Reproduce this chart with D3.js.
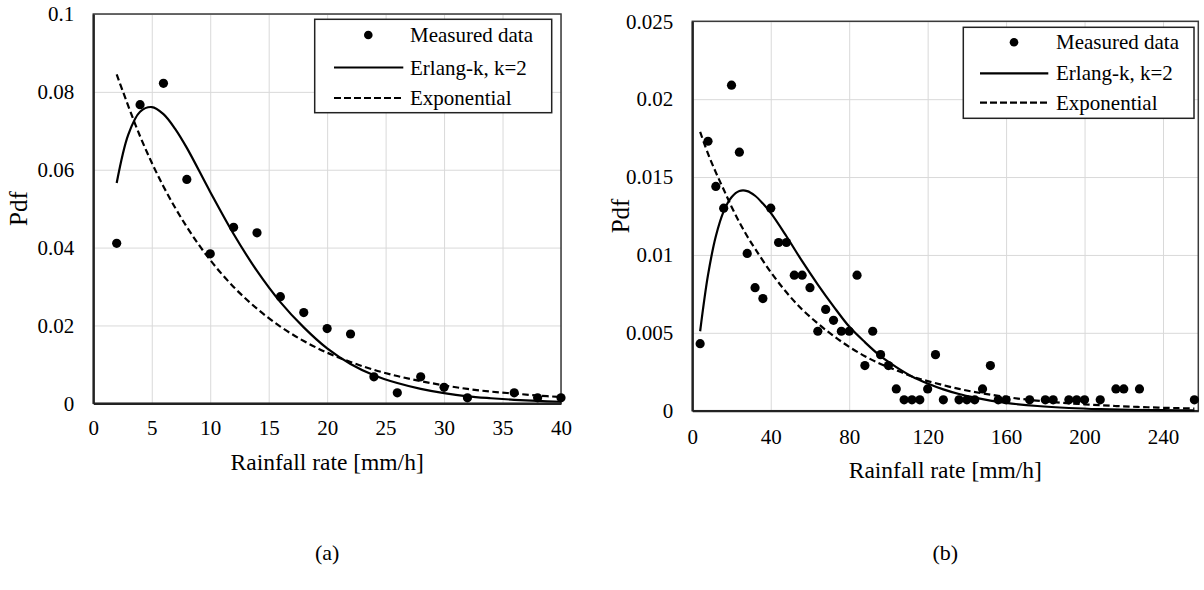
<!DOCTYPE html>
<html>
<head>
<meta charset="utf-8">
<script src="https://cdn.jsdelivr.net/npm/d3@7"></script>
<style>
  body { margin: 0; background: #fff; }
  text { font-family: "Liberation Serif", "Times New Roman", serif; fill: #000; }
</style>
</head>
<body>
<svg id="chart" width="1204" height="590"></svg>
<script>
// ---- Panel (a): rainfall rate up to 40 mm/h ----
const rateA = [2, 4, 6, 8, 10, 12, 14, 16, 18, 20, 22, 24, 26, 28, 30, 32, 36, 38, 40];
const measuredA = [0.0411, 0.0767, 0.0822, 0.0575, 0.0384, 0.0452, 0.0438, 0.0274, 0.0233, 0.0192,
                   0.0178, 0.0068, 0.0027, 0.0068, 0.0041, 0.0014, 0.0027, 0.0014, 0.0014];
const erlangXA = [2, 3, 4, 5, 6, 7, 8, 10, 12, 14, 16, 18, 20, 22, 24, 26, 28, 30, 32, 34, 36, 38, 40];
const erlangA = [0.0566, 0.0691, 0.0749, 0.0761, 0.0743, 0.0705, 0.0656, 0.0543, 0.0435, 0.0340, 0.0260,
                 0.0195, 0.0141, 0.0101, 0.0072, 0.0052, 0.0037, 0.0026, 0.0018, 0.0013, 0.0009, 0.0006, 0.0004];
const expXA = [2, 4, 6, 8, 10, 12, 14, 16, 18, 20, 22, 24, 26, 28, 30, 32, 34, 36, 38, 40];
const exponentialA = [0.0845, 0.0686, 0.0557, 0.0453, 0.0368, 0.0299, 0.0243, 0.0197, 0.0160, 0.0130,
                      0.0106, 0.0086, 0.0070, 0.0057, 0.0046, 0.0037, 0.0030, 0.0025, 0.0020, 0.0016];
const xTicksA = [0, 5, 10, 15, 20, 25, 30, 35, 40];
const yTicksA = [0, 0.02, 0.04, 0.06, 0.08, 0.1];

// ---- Panel (b): rainfall rate up to ~260 mm/h ----
const rateB = [4, 8, 12, 16, 20, 24, 28, 32, 36, 40, 44, 48, 52, 56, 60, 64, 68, 72, 76, 80, 84, 88, 92, 96,
               100, 104, 108, 112, 116, 120, 124, 128, 136, 140, 144, 148, 152, 156, 160, 172, 180, 184,
               192, 196, 200, 208, 216, 220, 228, 256];
const measuredB = [0.0043, 0.0173, 0.0144, 0.0130, 0.0209, 0.0166, 0.0101, 0.0079, 0.0072, 0.0130, 0.0108,
                   0.0108, 0.0087, 0.0087, 0.0079, 0.0051, 0.0065, 0.0058, 0.0051, 0.0051, 0.0087, 0.0029,
                   0.0051, 0.0036, 0.0029, 0.0014, 0.0007, 0.0007, 0.0007, 0.0014, 0.0036, 0.0007, 0.0007,
                   0.0007, 0.0007, 0.0014, 0.0029, 0.0007, 0.0007, 0.0007, 0.0007, 0.0007, 0.0007, 0.0007,
                   0.0007, 0.0007, 0.0014, 0.0014, 0.0014, 0.0007];
const erlangXB = [4, 8, 12, 16, 20, 24, 28, 32, 36, 40, 48, 56, 64, 72, 80, 88, 96, 104, 112, 120, 128, 136,
                  144, 152, 160, 176, 192, 208, 224, 240, 256];
const erlangB = [0.0051, 0.0087, 0.0112, 0.0128, 0.0137, 0.0141, 0.0141, 0.0138, 0.0133, 0.0127, 0.0112,
                 0.0096, 0.0081, 0.0067, 0.0054, 0.0044, 0.0035, 0.0028, 0.0022, 0.00175, 0.00137, 0.00107,
                 0.00084, 0.00065, 0.0005, 0.0003, 0.000175, 0.0001, 0.00006, 0.000035, 0.00002];
const expXB = [4, 8, 12, 16, 20, 24, 28, 32, 40, 48, 56, 64, 72, 80, 88, 96, 104, 112, 120, 136, 152, 168,
               184, 200, 216, 232, 248, 256];
const exponentialB = [0.0179, 0.0165, 0.0153, 0.0142, 0.0131, 0.0121, 0.0112, 0.0104, 0.0089, 0.0076, 0.0065,
                      0.0056, 0.0048, 0.0041, 0.0035, 0.0030, 0.0026, 0.0022, 0.0019, 0.0014, 0.00103,
                      0.00075, 0.00055, 0.00041, 0.0003, 0.00022, 0.00016, 0.00014];
const xTicksB = [0, 40, 80, 120, 160, 200, 240];
const yTicksB = [0, 0.005, 0.01, 0.015, 0.02, 0.025];

// ---- Shared text ----
const legendLabels = ["Measured data", "Erlang-k, k=2", "Exponential"];
const xTitle = "Rainfall rate [mm/h]";
const yTitle = "Pdf";
const panelLabels = ["(a)", "(b)"];

const svg = d3.select("#chart");

function drawPanel(p) {
  const x = d3.scaleLinear().domain(p.xDomain).range([p.left, p.right]);
  const y = d3.scaleLinear().domain(p.yDomain).range([p.bottom, p.top]);
  const g = svg.append("g");

  // gridlines
  g.append("g")
    .attr("transform", `translate(0,${p.bottom})`)
    .call(d3.axisBottom(x).tickValues(p.xTicks).tickSize(-(p.bottom - p.top)).tickFormat(""))
    .call(s => s.select(".domain").remove())
    .selectAll("line").attr("stroke", "#d9d9d9").attr("stroke-width", 1);
  g.append("g")
    .attr("transform", `translate(${p.left},0)`)
    .call(d3.axisLeft(y).tickValues(p.yTicks).tickSize(-(p.right - p.left)).tickFormat(""))
    .call(s => s.select(".domain").remove())
    .selectAll("line").attr("stroke", "#d9d9d9").attr("stroke-width", 1);

  // frame
  g.append("rect")
    .attr("x", p.left).attr("y", p.top)
    .attr("width", p.right - p.left).attr("height", p.bottom - p.top)
    .attr("fill", "none").attr("stroke", "#3a3a3a").attr("stroke-width", 1.5);

  // tick labels
  const xa = g.append("g")
    .attr("transform", `translate(0,${p.bottom})`)
    .call(d3.axisBottom(x).tickValues(p.xTicks).tickSize(0).tickPadding(p.xPad).tickFormat(d => String(d)));
  xa.select(".domain").attr("stroke", "#222").attr("stroke-width", 2.2);
  xa.selectAll("text").attr("font-size", 21).attr("font-family", "Liberation Serif").attr("fill", "#000");

  const ya = g.append("g")
    .attr("transform", `translate(${p.left},0)`)
    .call(d3.axisLeft(y).tickValues(p.yTicks).tickSize(0).tickPadding(19).tickFormat(d => String(d)));
  ya.select(".domain").attr("stroke", "#222").attr("stroke-width", 2.2);
  ya.selectAll("text").attr("font-size", 21).attr("font-family", "Liberation Serif").attr("fill", "#000");

  // fitted curves
  const line = d3.line().x(d => x(d[0])).y(d => y(d[1])).curve(d3.curveCatmullRom.alpha(0.5));
  g.append("path")
    .datum(p.expX.map((v, i) => [v, p.exp[i]]))
    .attr("d", line).attr("fill", "none")
    .attr("stroke", "#000").attr("stroke-width", 2.2).attr("stroke-dasharray", "6.5,3.5");
  g.append("path")
    .datum(p.erlX.map((v, i) => [v, p.erl[i]]))
    .attr("d", line).attr("fill", "none")
    .attr("stroke", "#000").attr("stroke-width", 2.2);

  // measured points
  g.append("g").selectAll("circle")
    .data(p.rate.map((v, i) => [v, p.meas[i]]))
    .join("circle")
    .attr("cx", d => x(d[0])).attr("cy", d => y(d[1]))
    .attr("r", 4.6).attr("fill", "#000");

  // legend
  const L = p.legend;
  const lg = g.append("g");
  lg.append("rect")
    .attr("x", L.x0).attr("y", L.y0).attr("width", L.x1 - L.x0).attr("height", L.y1 - L.y0)
    .attr("fill", "#fff").attr("stroke", "#222").attr("stroke-width", 1.5);
  lg.append("circle").attr("cx", L.marker).attr("cy", L.rows[0]).attr("r", 4.3).attr("fill", "#000");
  lg.append("line").attr("x1", L.lineX0).attr("x2", L.lineX1)
    .attr("y1", L.rows[1]).attr("y2", L.rows[1]).attr("stroke", "#000").attr("stroke-width", 2.2);
  lg.append("line").attr("x1", L.lineX0).attr("x2", L.lineX1)
    .attr("y1", L.rows[2]).attr("y2", L.rows[2]).attr("stroke", "#000").attr("stroke-width", 2.2)
    .attr("stroke-dasharray", "7,3");
  lg.selectAll("text.leg")
    .data(legendLabels)
    .join("text").attr("class", "leg")
    .attr("x", L.text).attr("y", (d, i) => L.rows[i] + 7)
    .attr("font-size", 21).text(d => d);

  // axis titles
  g.append("text")
    .attr("x", (p.left + p.right) / 2).attr("y", p.xTitleY)
    .attr("text-anchor", "middle").attr("font-size", 23.5).text(xTitle);
  g.append("text")
    .attr("transform", `translate(${p.yTitleX},${(p.top + p.bottom) / 2}) rotate(-90)`)
    .attr("text-anchor", "middle").attr("font-size", 25).text(yTitle);

  // panel label
  g.append("text")
    .attr("x", (p.left + p.right) / 2).attr("y", p.labelY)
    .attr("text-anchor", "middle").attr("font-size", 22).text(p.label);
}

drawPanel({
  left: 93.3, right: 561, top: 14, bottom: 403.3,
  xDomain: [0, 40], yDomain: [0, 0.1], xTicks: xTicksA, yTicks: yTicksA, xPad: 17,
  rate: rateA, meas: measuredA, erlX: erlangXA, erl: erlangA, expX: expXA, exp: exponentialA,
  legend: { x0: 314.7, y0: 19.3, x1: 551.7, y1: 112.7, rows: [35, 67.5, 98], marker: 368.3, lineX0: 334, lineX1: 403.3, text: 410 },
  xTitleY: 470, yTitleX: 27, labelY: 560, label: panelLabels[0]
});

drawPanel({
  left: 692.3, right: 1198.3, top: 21.3, bottom: 410.7,
  xDomain: [0, 258], yDomain: [0, 0.025], xTicks: xTicksB, yTicks: yTicksB, xPad: 18,
  rate: rateB, meas: measuredB, erlX: erlangXB, erl: erlangB, expX: expXB, exp: exponentialB,
  legend: { x0: 963.3, y0: 27.3, x1: 1194, y1: 118.3, rows: [42.3, 73.3, 102.7], marker: 1014, lineX0: 980, lineX1: 1048.3, text: 1056 },
  xTitleY: 478, yTitleX: 629, labelY: 560, label: panelLabels[1]
});
</script>
</body>
</html>
